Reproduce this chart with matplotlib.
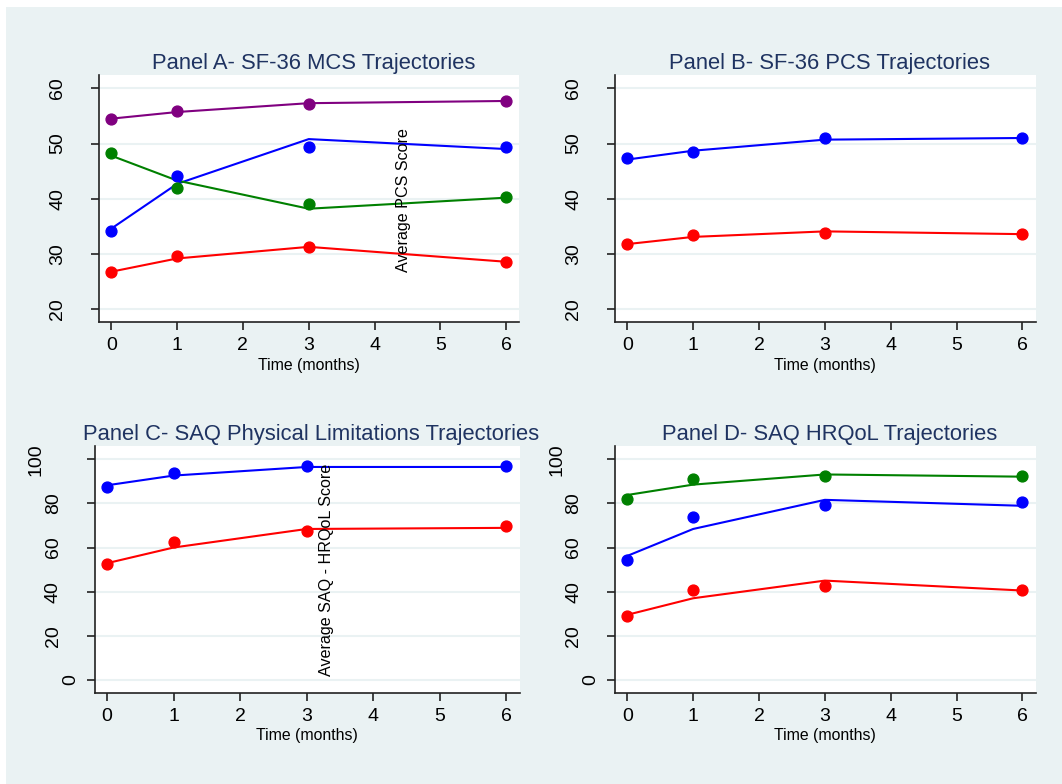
import matplotlib
matplotlib.use("Agg")
import matplotlib.pyplot as plt
from matplotlib.patches import Rectangle

plt.rcParams['font.family'] = ['Liberation Sans', 'DejaVu Sans']

months = [0, 1, 3, 6]

# Panel A - SF-36 MCS (dots = observed means, lines = fitted)
mcs_purple_obs = [54.5, 55.8, 57.2, 57.7]
mcs_purple_fit = [54.5, 55.7, 57.3, 57.7]
mcs_blue_obs = [34.2, 44.2, 49.3, 49.3]
mcs_blue_fit = [34.6, 42.7, 50.8, 49.0]
mcs_green_obs = [48.2, 42.0, 39.1, 40.3]
mcs_green_fit = [47.8, 43.3, 38.2, 40.2]
mcs_red_obs = [26.8, 29.6, 31.3, 28.6]
mcs_red_fit = [26.8, 29.2, 31.3, 28.6]

# Panel B - SF-36 PCS
pcs_blue_obs = [47.3, 48.4, 51.0, 51.0]
pcs_blue_fit = [47.1, 48.7, 50.7, 51.0]
pcs_red_obs = [31.8, 33.5, 33.8, 33.6]
pcs_red_fit = [31.8, 33.1, 34.1, 33.6]

# Panel C - SAQ physical limitations
pl_blue_obs = [87.5, 93.7, 97.0, 97.0]
pl_blue_fit = [88.2, 92.6, 96.5, 96.5]
pl_red_obs = [52.3, 62.4, 67.7, 69.9]
pl_red_fit = [52.9, 60.0, 68.4, 68.9]

# Panel D - SAQ HRQoL
hq_green_obs = [82.2, 91.1, 92.4, 92.6]
hq_green_fit = [83.8, 88.5, 93.1, 92.1]
hq_blue_obs = [54.2, 73.9, 79.2, 80.4]
hq_blue_fit = [56.2, 68.4, 81.6, 78.9]
hq_red_obs = [28.9, 40.9, 42.6, 40.9]
hq_red_fit = [29.5, 37.0, 45.0, 40.5]

titles = ["Panel A- SF-36 MCS Trajectories", "Panel B- SF-36 PCS Trajectories",
          "Panel C- SAQ Physical Limitations Trajectories", "Panel D- SAQ HRQoL Trajectories"]
sf_ticks = [20, 30, 40, 50, 60]
saq_ticks = [0, 20, 40, 60, 80, 100]
x_ticks = [0, 1, 2, 3, 4, 5, 6]

bg = '#EAF2F3'
title_col = '#1F3361'

W, H = 1062, 784
fig = plt.figure(figsize=(W / 100, H / 100), dpi=100)
fig.patch.set_facecolor('white')
fig.patches.append(Rectangle((6 / W, 0), 1, 1 - 7 / H, transform=fig.transFigure,
                             facecolor=bg, edgecolor='none', zorder=-10))


def make_ax(left, right, top, bottom):
    return fig.add_axes([left / W, 1 - bottom / H, (right - left) / W, (bottom - top) / H])


axA = make_ax(98.8, 519.3, 75, 322)
axB = make_ax(614.8, 1035.6, 75, 322)
axC = make_ax(94.5, 519.6, 446, 692.7)
axD = make_ax(614.8, 1035.6, 446, 692.7)

panels = [
    (axA, [('#800080', mcs_purple_obs, mcs_purple_fit), ('#0000FF', mcs_blue_obs, mcs_blue_fit),
           ('#008000', mcs_green_obs, mcs_green_fit), ('#FF0000', mcs_red_obs, mcs_red_fit)],
     sf_ticks, (17.7, 62.4)),
    (axB, [('#0000FF', pcs_blue_obs, pcs_blue_fit), ('#FF0000', pcs_red_obs, pcs_red_fit)],
     sf_ticks, (17.7, 62.4)),
    (axC, [('#0000FF', pl_blue_obs, pl_blue_fit), ('#FF0000', pl_red_obs, pl_red_fit)],
     saq_ticks, (-5.8, 106)),
    (axD, [('#008000', hq_green_obs, hq_green_fit), ('#0000FF', hq_blue_obs, hq_blue_fit),
           ('#FF0000', hq_red_obs, hq_red_fit)],
     saq_ticks, (-5.8, 106)),
]

for (ax, series, yt, ylim), title in zip(panels, titles):
    ax.set_facecolor('white')
    for col, obs, fit in series:
        ax.plot(months, fit, color=col, linewidth=1.5, zorder=3)
        ax.plot(months, obs, 'o', color=col, markersize=7.8, zorder=4)
    ax.set_xlim(-0.19, 6.2)
    ax.set_ylim(*ylim)
    ax.set_xticks(x_ticks)
    ax.set_yticks(yt)
    ax.grid(axis='y', color=bg, linewidth=1.5, zorder=0)
    ax.set_axisbelow(True)
    for s in ['top', 'right']:
        ax.spines[s].set_visible(False)
    for s in ['left', 'bottom']:
        ax.spines[s].set_color('#222222')
        ax.spines[s].set_linewidth(1.2)
    ax.tick_params(direction='out', length=6, width=1.2, color='#222222',
                   labelsize=14, pad=5, labelleft=False)
    # Stata-style rotated y labels, shifted further out the longer they are
    for v in yt:
        lab = str(v)
        ax.annotate(lab, xy=(0, v), xycoords=ax.get_yaxis_transform(),
                    xytext=(-(24 + 17 * (len(lab) - 1)), 0), textcoords='offset pixels',
                    rotation=90, ha='center', va='center', fontsize=14)
    ax.set_xlabel("Time (months)", fontsize=11.4, labelpad=2.5)
    ax.set_title(title, fontsize=15.8, color=title_col, pad=4.5, x=0.51)

# misplaced y titles as they appear in the original
fig.text(403.6 / W, 1 - 200 / H, "Average PCS Score", rotation=90,
         ha='center', va='center', fontsize=11.6)
fig.text(326.7 / W, 1 - 569.7 / H, "Average SAQ - HRQoL Score", rotation=90,
         ha='center', va='center', fontsize=11.6)

fig.savefig('out.png', dpi=100, facecolor=fig.get_facecolor())
